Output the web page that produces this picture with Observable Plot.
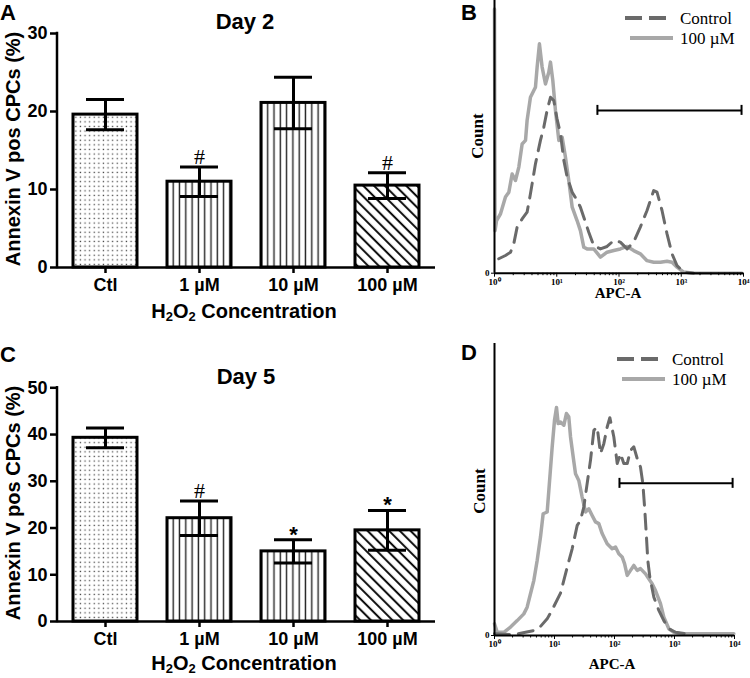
<!DOCTYPE html>
<html><head><meta charset="utf-8">
<script src="https://cdn.jsdelivr.net/npm/d3@7"></script>
<script src="https://cdn.jsdelivr.net/npm/@observablehq/plot@0.6"></script>
<style>
body{margin:0;background:#fff;}
#fig{position:relative;width:750px;height:678px;overflow:hidden;background:#fff;}
.abs{position:absolute;white-space:nowrap;line-height:1.15;transform:translate(-50%,-50%);color:#000;}
.sans{font-family:"Liberation Sans",Arial,sans-serif;font-weight:bold;}
.serif{font-family:"Liberation Serif","Times New Roman",serif;font-weight:bold;}
.rot{transform:translate(-50%,-50%) rotate(-90deg);}
sub{font-size:0.65em;vertical-align:-0.3em;line-height:0;}
.panel{position:absolute;}
</style></head><body>
<svg width="0" height="0" style="position:absolute;left:0;top:0"><defs>
<pattern id="pDots" patternUnits="userSpaceOnUse" width="4.6" height="4.6"><rect width="4.6" height="4.6" fill="#fff"/><rect x="1.6" y="1.6" width="1.3" height="1.3" fill="#4a4a4a"/></pattern>
<pattern id="pVert" patternUnits="userSpaceOnUse" width="6.3" height="10"><rect width="6.3" height="10" fill="#fff"/><rect x="2.4" y="0" width="1.4" height="10" fill="#222"/></pattern>
<pattern id="pDiag" patternUnits="userSpaceOnUse" width="7.6" height="10" patternTransform="rotate(-45)"><rect width="7.6" height="10" fill="#fff"/><rect x="3" y="0" width="1.9" height="10" fill="#000"/></pattern>
</defs></svg>
<div id="fig">
  <div id="pA" class="panel" style="left:0;top:0"></div>
  <div id="pB" class="panel" style="left:460px;top:0"></div>
  <div id="pC" class="panel" style="left:0;top:330px"></div>
  <div id="pD" class="panel" style="left:460px;top:330px"></div>

  <div class="abs sans" style="left:8px;top:13px;font-size:22px">A</div>
  <div class="abs sans" style="left:469px;top:13px;font-size:22px">B</div>
  <div class="abs sans" style="left:8px;top:355px;font-size:22px">C</div>
  <div class="abs sans" style="left:469px;top:353px;font-size:22px">D</div>

  <div class="abs sans" style="left:245px;top:22px;font-size:22px">Day 2</div>
  <div class="abs sans" style="left:246px;top:377px;font-size:22px">Day 5</div>

  <div class="abs sans rot" style="left:13px;top:149px;font-size:20px">Annexin V pos CPCs (%)</div>
  <div class="abs sans rot" style="left:13px;top:503px;font-size:20px">Annexin V pos CPCs (%)</div>

  <div class="abs sans" style="left:244px;top:311px;font-size:20px">H<sub>2</sub>O<sub>2</sub> Concentration</div>
  <div class="abs sans" style="left:244px;top:663px;font-size:20px">H<sub>2</sub>O<sub>2</sub> Concentration</div>

  <div class="abs serif rot" style="left:478px;top:136px;font-size:17px">Count</div>
  <div class="abs serif rot" style="left:480px;top:491px;font-size:17px">Count</div>
  <div class="abs serif" style="left:618px;top:294px;font-size:15px">APC-A</div>
  <div class="abs serif" style="left:612px;top:665px;font-size:15px">APC-A</div>
</div>
<script>
// ---------- Bar chart data (panels A and C) ----------
const concentrations = ["Ctl", "1 µM", "10 µM", "100 µM"];
const day2Mean = [19.6, 11.0, 21.1, 10.5];
const day2Sem  = [1.95, 1.9, 3.3, 1.65];
const day2Sig  = ["", "#", "", "#"];
const day2Ticks = [0, 10, 20, 30];
const day5Mean = [39.3, 22.1, 15.0, 19.5];
const day5Sem  = [2.1, 3.7, 2.5, 4.25];
const day5Sig  = ["", "#", "*", "*"];
const day5Ticks = [0, 10, 20, 30, 40, 50];

// ---------- Flow histogram data (panels B and D) ----------
const bTreatedX = [1.0,1.02,1.08,1.25,1.5,1.7,1.92,2.17,2.46,2.78,3.15,3.34,3.78,4.28,4.55,4.84,5.27,5.82,6.59,7.45,7.93,8.64,9.53,10.8,12.2,13.8,15.6,17.7,21.2,24.0,27.2,30.7,39.3,50.3,64.3,82.3,105,135,172,220,282,361,462,591,711,855,1094,1585,3318,9440];
const bTreatedY = [96.9,15.6,19.3,21.8,27.9,29.7,36.4,34.0,38.9,47.4,48.7,56.0,64.5,67.0,68.2,75.6,84.1,75.6,69.4,73.7,77.4,70.7,59.7,48.7,49.9,42.5,34.0,24.2,19.3,15.6,9.5,8.9,8.9,5.9,7.7,8.3,8.9,9.8,8.3,7.1,4.6,4.0,4.0,4.4,4.0,2.2,0.4,0,0,0];
const bControlX = [1.17,1.5,1.81,2.04,2.31,2.78,3.34,3.78,4.55,5.47,6.19,7.0,7.93,8.96,10.1,11.5,13.0,14.7,17.7,21.2,24.0,27.2,32.7,39.3,50.3,64.3,82.3,105,135,172,220,282,361,408,491,591,711,855,1094,1585];
const bControlY = [5.3,6.5,7.7,10.8,16.9,19.9,22.4,29.1,40.1,48.7,53.5,59.7,64.5,63.3,56.6,51.1,41.3,35.2,29.7,26.7,24.2,20.5,15.0,10.1,8.9,9.8,12.0,11.4,8.9,11.4,16.9,23.0,30.3,29.7,23.0,14.4,7.1,2.8,0.4,0];
const bGateX = [45, 9300];
const bGateLevel = 59.7;

const dTreatedX = [1.0,1.11,1.43,1.85,2.39,3.08,3.5,3.98,4.53,5.14,5.84,6.47,7.55,8.05,9.15,10.0,10.8,11.5,12.6,14.3,15.8,17.3,18.5,20.5,22.4,25.4,28.9,32.9,37.3,42.4,48.2,54.8,62.3,75.5,91.4,104,118,134,147,163,185,210,239,271,329,373,424,482,584,664,805,975,1259,4525,9750];
const dTreatedY = [4.0,1.1,1.1,2.9,5.1,7.4,9.7,14.3,18.9,25.7,33.7,41.7,42.3,49.7,64.6,73.7,78.1,72.6,73.1,72.0,76.0,74.9,68.0,61.1,55.4,53.1,47.4,42.3,43.4,41.1,38.9,38.3,34.9,31.4,29.7,30.3,28.0,26.9,24.6,20.6,22.3,24.0,22.3,22.9,21.1,19.4,17.7,15.4,10.9,6.3,2.3,1.1,0.6,0.6,0.6];
const dControlX = [1.0,2.1,3.29,4.53,5.84,7.55,9.15,12.6,16.3,19.7,23.9,27.1,30.8,35.0,39.8,45.3,51.4,58.4,66.4,75.5,83.6,97.5,111,126,143,163,185,210,239,271,297,320,341,359,388,453,548,664,805,1040,1626];
const dControlY = [0.6,0.3,1.1,1.7,3.1,5.7,8.8,14.5,23.4,29.7,37.7,39.4,44.0,52.0,60.0,70.3,71.4,62.3,65.7,71.4,74.6,68.0,58.9,62.3,58.9,58.9,63.4,64.6,60.6,57.7,52.0,42.9,33.7,25.7,20.0,13.1,8.6,5.1,2.3,1.1,0.6];
const dGateX = [121, 9300];
const dGateLevel = 52.1;

const seriesNames = ["Control", "100 µM"];
const decadeTicks = [1, 10, 100, 1000, 10000];
const superscripts = ["⁰", "¹", "²", "³", "⁴"];

// ---------- styles ----------
const barPatterns = ["url(#pDots)", "url(#pVert)", "url(#pVert)", "url(#pDiag)"];
const sansStyle = {fontFamily: '"Liberation Sans", Arial, sans-serif', fontSize: "18px", fontWeight: "bold", color: "#000", background: "transparent", overflow: "visible"};
const serifStyle = {fontFamily: '"Liberation Serif", "Times New Roman", serif', fontSize: "9px", fontWeight: "bold", color: "#000", background: "transparent", overflow: "visible"};
const treatedColor = "#a8a8a8", controlColor = "#6a6a6a";

function barChart(target, means, sems, sig, ticks, cfg) {
  const rows = concentrations.map((c, i) => ({cat: c, mean: means[i], lo: means[i] - sems[i], hi: means[i] + sems[i], sig: sig[i]}));
  const yMax = ticks[ticks.length - 1];
  const plot = Plot.plot({
    width: 460, height: cfg.height,
    marginLeft: 57, marginRight: 25, marginTop: cfg.mt, marginBottom: cfg.mb,
    style: sansStyle,
    x: {domain: concentrations, paddingInner: 0.32, paddingOuter: 0.16, label: null},
    y: {domain: [0, yMax], label: null},
    color: {type: "ordinal", domain: concentrations, range: barPatterns},
    marks: [
      Plot.barY(rows, {x: "cat", y: "mean", fill: "cat", stroke: "#000", strokeWidth: 3}),
      Plot.ruleX(rows, {x: "cat", y1: "lo", y2: "hi", stroke: "#000", strokeWidth: 3}),
      Plot.tickY(rows, {x: "cat", y: "lo", inset: 13, stroke: "#000", strokeWidth: 3}),
      Plot.tickY(rows, {x: "cat", y: "hi", inset: 13, stroke: "#000", strokeWidth: 3}),
      Plot.text(rows, {filter: d => d.sig === "#", x: "cat", y: "hi", text: "sig", lineAnchor: "bottom", dy: -3, fontFamily: '"Liberation Serif", serif', fontWeight: "normal", fontSize: 22}),
      Plot.text(rows, {filter: d => d.sig === "*", x: "cat", y: "hi", text: "sig", lineAnchor: "bottom", dy: 2, fontSize: 22}),
      Plot.ruleY([0], {stroke: "#000", strokeWidth: 2.5}),
      Plot.axisY({ticks, tickSize: 7, tickPadding: 3, strokeWidth: 2.5, label: null}),
      Plot.axisX({tickSize: 6, tickPadding: 5, strokeWidth: 2.5, label: null})
    ]
  });
  const y = plot.scale("y");
  d3.select(plot).append("line")
    .attr("x1", 57).attr("x2", 57)
    .attr("y1", y.apply(0)).attr("y2", y.apply(yMax))
    .attr("stroke", "#000").attr("stroke-width", 2.5).attr("stroke-linecap", "square");
  document.getElementById(target).appendChild(plot);
}

function histogram(target, cX, cY, tX, tY, gateX, gateLevel, cfg) {
  const ctl = cX.map((x, i) => ({x, y: cY[i]}));
  const trt = tX.map((x, i) => ({x, y: tY[i]}));
  const minor = d3.range(0, 4).flatMap(k => d3.range(2, 10).map(m => m * 10 ** k));
  const plot = Plot.plot({
    width: 290, height: cfg.height,
    marginLeft: 34, marginRight: cfg.mr, marginTop: cfg.mt, marginBottom: cfg.mb,
    style: serifStyle,
    x: {type: "log", domain: [1, 1e4], label: null},
    y: {domain: [0, 100], label: null},
    marks: [
      Plot.line(trt, {x: "x", y: "y", stroke: treatedColor, strokeWidth: 3.5, strokeLinejoin: "round"}),
      Plot.line(ctl, {x: "x", y: "y", stroke: controlColor, strokeWidth: 3, strokeDasharray: "15,9"}),
      Plot.ruleY([gateLevel], {x1: gateX[0], x2: gateX[1], stroke: "#000", strokeWidth: 2}),
      Plot.ruleX(gateX, {y1: gateLevel, y2: gateLevel, insetTop: -5, insetBottom: -5, stroke: "#000", strokeWidth: 2}),
      Plot.ruleX([1], {stroke: "#000", strokeWidth: 2}),
      Plot.ruleY([0], {stroke: "#000", strokeWidth: 2}),
      Plot.axisX({ticks: minor, tickFormat: () => "", tickSize: 2.5, label: null}),
      Plot.axisX({ticks: decadeTicks, tickFormat: d => "10" + superscripts[Math.round(Math.log10(d))], tickSize: 4, tickPadding: 1, label: null}),
      Plot.axisY({ticks: [0], tickFormat: d => "0", tickSize: 3, tickPadding: 2, label: null})
    ]
  });
  const svg = d3.select(plot);
  const lg = cfg.legend;
  svg.append("line").attr("x1", lg.x0).attr("x2", lg.x1).attr("y1", lg.y).attr("y2", lg.y)
    .attr("stroke", controlColor).attr("stroke-width", 4).attr("stroke-dasharray", "17,7");
  svg.append("line").attr("x1", lg.x0 + 5).attr("x2", lg.x1).attr("y1", lg.y + 20).attr("y2", lg.y + 20)
    .attr("stroke", treatedColor).attr("stroke-width", 4);
  seriesNames.forEach((name, i) => {
    svg.append("text").attr("x", lg.x1 + 7).attr("y", lg.y + 6 + i * 20)
      .attr("text-anchor", "start")
      .attr("font-family", '"Liberation Serif", "Times New Roman", serif')
      .attr("font-size", 17).attr("font-weight", "normal").attr("fill", "#000").text(name);
  });
  document.getElementById(target).appendChild(plot);
}

barChart("pA", day2Mean, day2Sem, day2Sig, day2Ticks, {height: 330, mt: 33, mb: 63});
barChart("pC", day5Mean, day5Sem, day5Sig, day5Ticks, {height: 348, mt: 57.3, mb: 57});
histogram("pB", bControlX, bControlY, bTreatedX, bTreatedY, bGateX, bGateLevel,
  {height: 330, mt: 0, mb: 57.3, mr: 7, legend: {x0: 165, x1: 213, y: 18}});
histogram("pD", dControlX, dControlY, dTreatedX, dTreatedY, dGateX, dGateLevel,
  {height: 348, mt: 13, mb: 43, mr: 16, legend: {x0: 157, x1: 205, y: 29}});
</script>
</body></html>
